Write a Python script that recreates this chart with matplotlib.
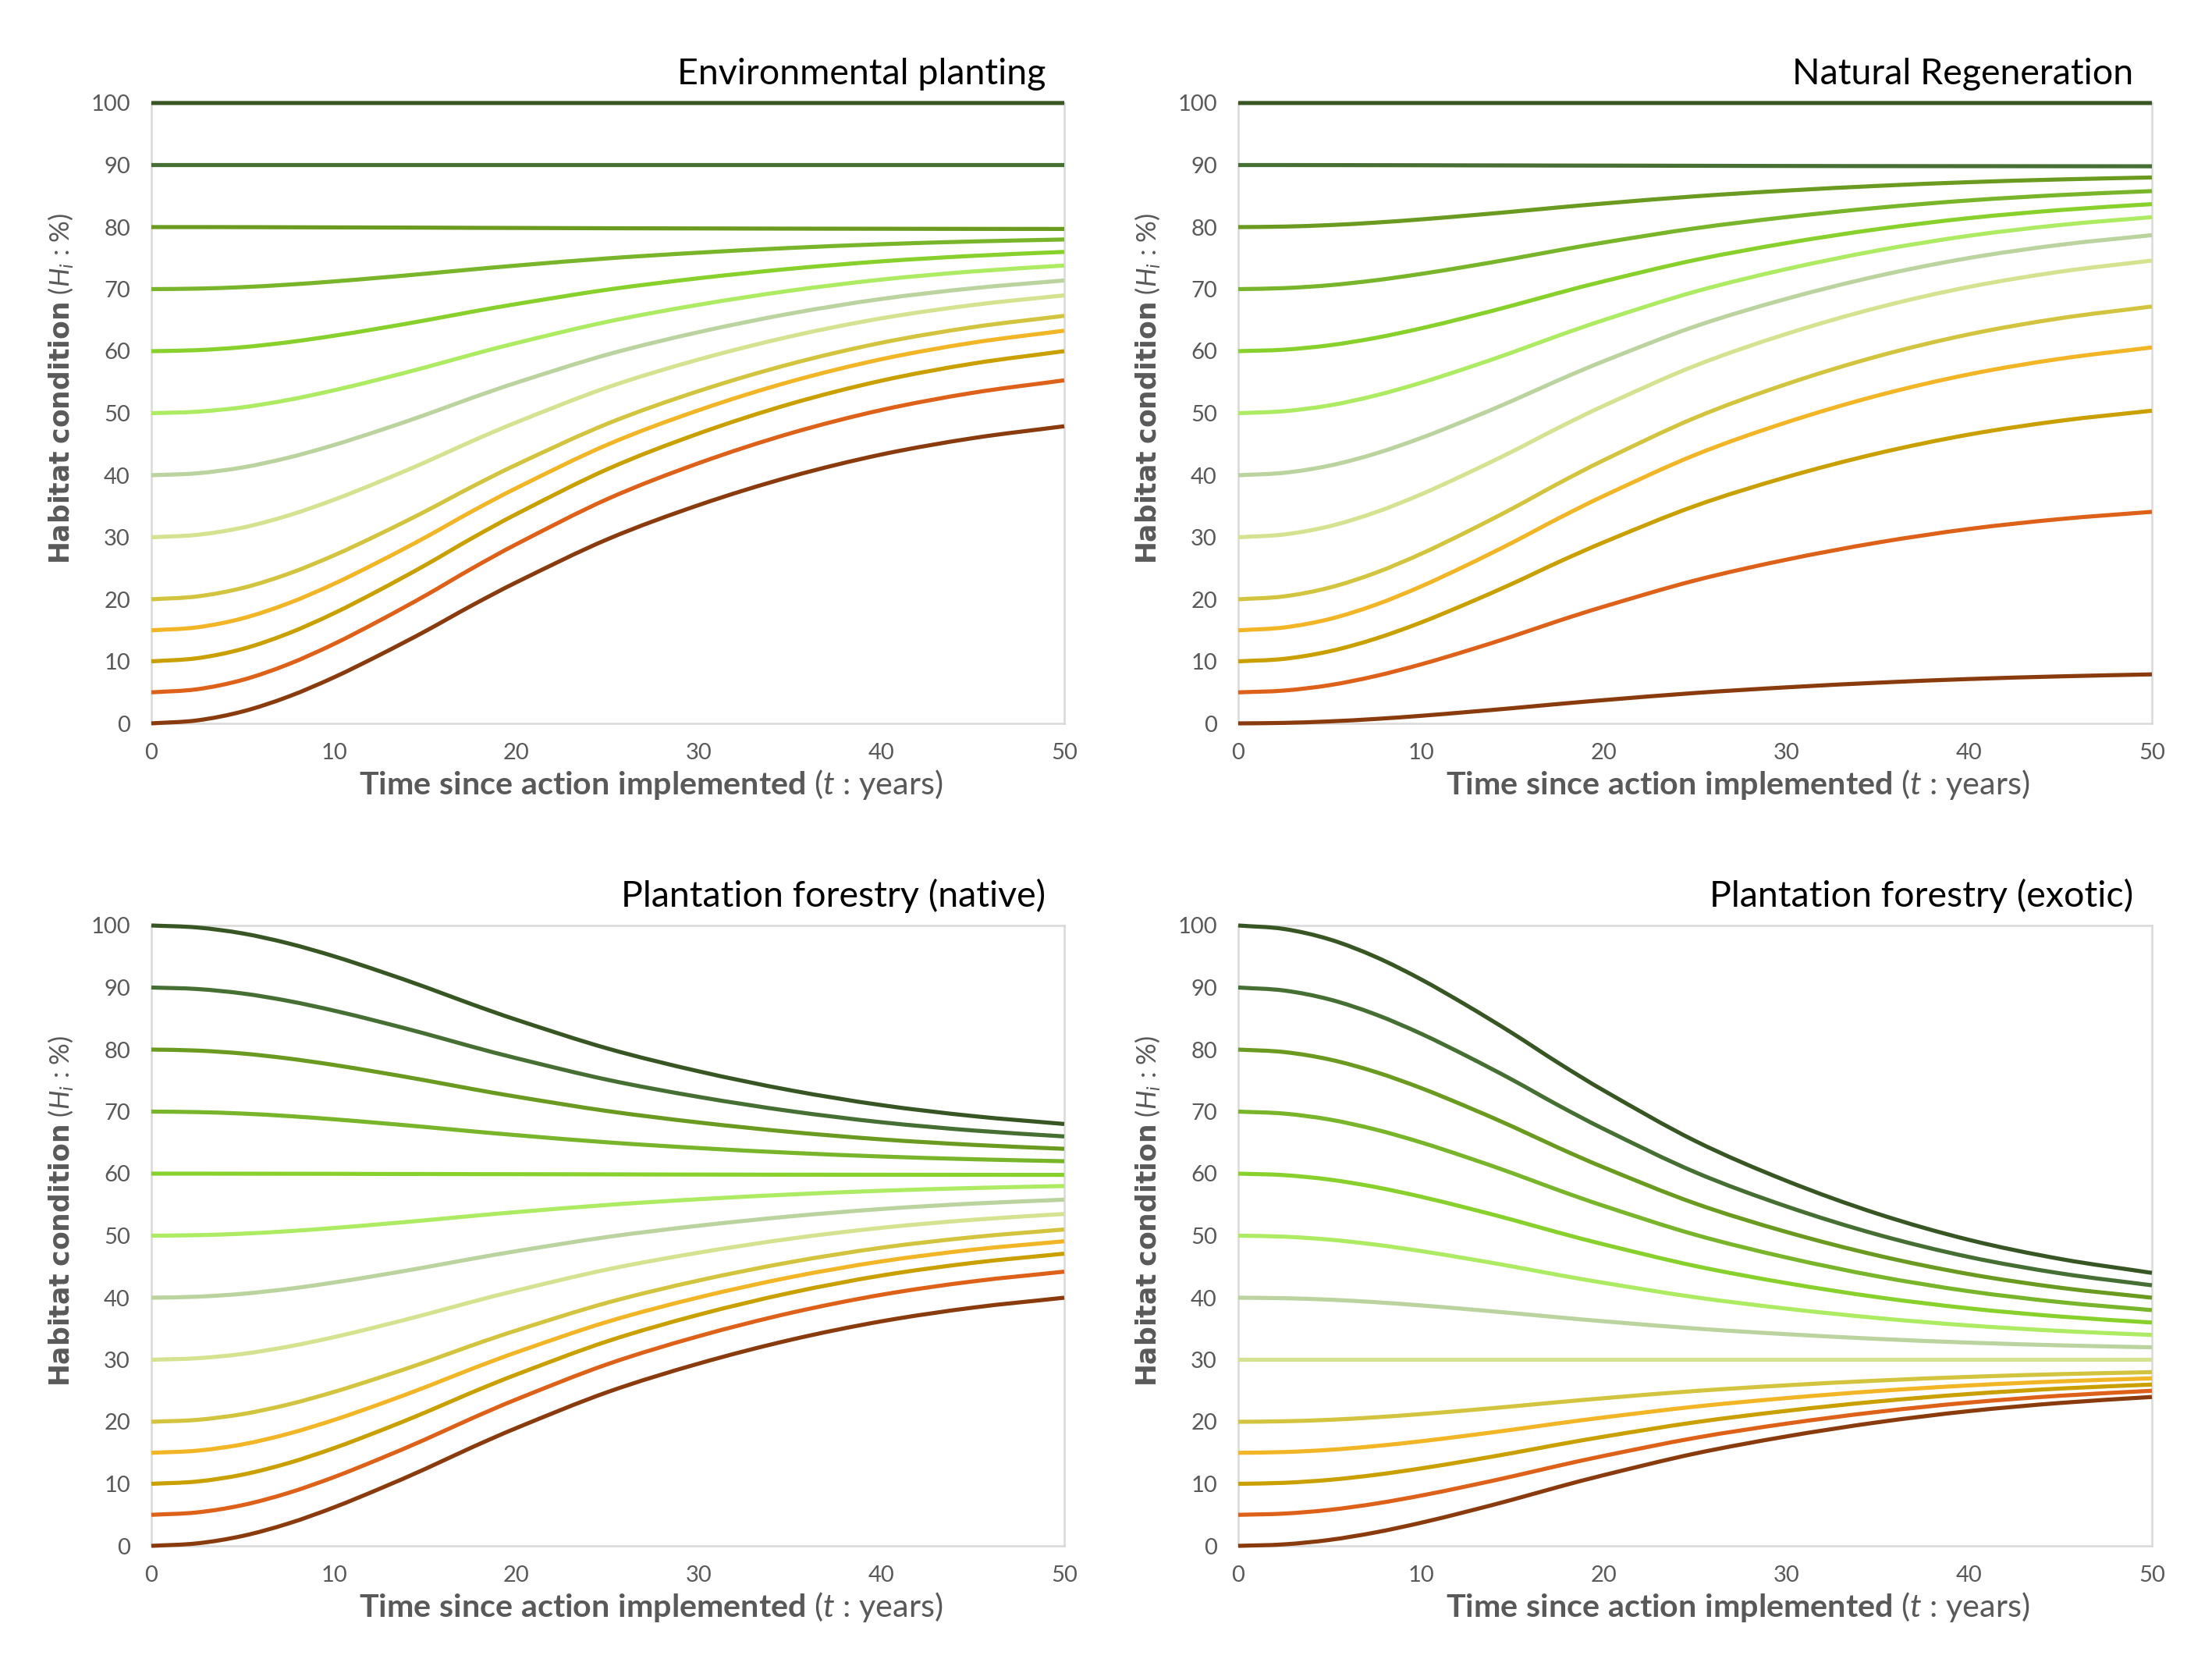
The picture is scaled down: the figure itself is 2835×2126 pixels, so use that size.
import matplotlib.pyplot as plt
from matplotlib.path import Path
from matplotlib.patches import PathPatch

# time axis shared by every curve (years since action)
years = [0, 2.5, 5, 7.5, 10, 12.5, 15, 17.5, 20, 25, 30, 35, 40, 45, 50]

# starting habitat condition of each curve, top to bottom
start_levels = [100, 90, 80, 70, 60, 50, 40, 30, 20, 15, 10, 5, 0]

line_colors = ['#375623', '#466F33', '#6A9A1F', '#78B52A', '#88D12C', '#ADEB63',
               '#BBD39F', '#D5E28F', '#D2C43F', '#F2B526', '#C9A000', '#DE6119',
               '#8A3B0E']

panel_titles = ['Environmental planting', 'Natural Regeneration',
                'Plantation forestry (native)', 'Plantation forestry (exotic)']

env_planting = [
    [100] * 15,
    [90] * 15,
    [80, 80, 79.99, 79.97, 79.95, 79.93, 79.91, 79.88, 79.86, 79.81, 79.78, 79.75, 79.73, 79.71, 79.7],
    [70, 70.08, 70.32, 70.72, 71.24, 71.84, 72.48, 73.16, 73.8, 74.96, 75.88, 76.64, 77.24, 77.68, 78.0],
    [60, 60.16, 60.64, 61.44, 62.48, 63.68, 64.96, 66.32, 67.6, 69.92, 71.76, 73.28, 74.48, 75.36, 76.0],
    [50, 50.24, 50.95, 52.14, 53.69, 55.47, 57.38, 59.40, 61.31, 64.76, 67.49, 69.75, 71.54, 72.85, 73.8],
    [40, 40.31, 41.26, 42.83, 44.87, 47.22, 49.73, 52.40, 54.92, 59.47, 63.08, 66.06, 68.42, 70.14, 71.4],
    [30, 30.39, 31.56, 33.51, 36.05, 38.97, 42.09, 45.41, 48.53, 54.18, 58.67, 62.37, 65.30, 67.44, 69.0],
    [20, 20.46, 21.83, 24.11, 27.08, 30.51, 34.17, 38.05, 41.71, 48.33, 53.59, 57.93, 61.36, 63.87, 65.7],
    [15, 15.48, 16.93, 19.35, 22.49, 26.11, 29.97, 34.08, 37.94, 44.95, 50.50, 55.09, 58.71, 61.37, 63.3],
    [10, 10.5, 12.0, 14.5, 17.75, 21.5, 25.5, 29.75, 33.75, 41.0, 46.75, 51.5, 55.25, 58.0, 60.0],
    [5, 5.50, 7.01, 9.53, 12.80, 16.57, 20.59, 24.87, 28.89, 36.19, 41.97, 46.75, 50.52, 53.29, 55.3],
    [0, 0.48, 1.92, 4.31, 7.42, 11.02, 14.85, 18.92, 22.75, 29.70, 35.21, 39.76, 43.35, 45.98, 47.9],
]

natural_regen = [
    [100] * 15,
    [90, 90, 89.99, 89.98, 89.97, 89.95, 89.94, 89.92, 89.91, 89.88, 89.85, 89.83, 89.82, 89.81, 89.8],
    [80, 80.08, 80.32, 80.72, 81.24, 81.84, 82.48, 83.16, 83.8, 84.96, 85.88, 86.64, 87.24, 87.68, 88.0],
    [70, 70.16, 70.63, 71.42, 72.45, 73.63, 74.90, 76.24, 77.51, 79.80, 81.61, 83.11, 84.30, 85.17, 85.8],
    [60, 60.24, 60.95, 62.13, 63.67, 65.45, 67.35, 69.36, 71.26, 74.69, 77.42, 79.67, 81.45, 82.75, 83.7],
    [50, 50.32, 51.26, 52.84, 54.90, 57.27, 59.80, 62.48, 65.01, 69.59, 73.23, 76.23, 78.60, 80.34, 81.6],
    [40, 40.39, 41.55, 43.48, 46.00, 48.90, 52.00, 55.29, 58.38, 63.99, 68.44, 72.12, 75.02, 77.15, 78.7],
    [30, 30.45, 31.78, 34.01, 36.91, 40.26, 43.83, 47.62, 51.19, 57.65, 62.78, 67.02, 70.36, 72.82, 74.6],
    [20, 20.47, 21.89, 24.25, 27.32, 30.86, 34.63, 38.64, 42.42, 49.26, 54.69, 59.18, 62.72, 65.31, 67.2],
    [15, 15.46, 16.82, 19.10, 22.07, 25.49, 29.14, 33.01, 36.66, 43.27, 48.52, 52.85, 56.27, 58.78, 60.6],
    [10, 10.40, 11.62, 13.64, 16.26, 19.29, 22.52, 25.96, 29.19, 35.05, 39.69, 43.53, 46.56, 48.78, 50.4],
    [5, 5.29, 6.16, 7.62, 9.51, 11.69, 14.02, 16.50, 18.82, 23.04, 26.39, 29.15, 31.34, 32.94, 34.1],
    [0, 0.08, 0.32, 0.71, 1.22, 1.82, 2.45, 3.12, 3.75, 4.90, 5.81, 6.56, 7.15, 7.58, 7.9],
]

plantation_native = [
    [100, 99.68, 98.72, 97.12, 95.04, 92.64, 90.08, 87.36, 84.8, 80.16, 76.48, 73.44, 71.04, 69.28, 68.0],
    [90, 89.76, 89.04, 87.84, 86.28, 84.48, 82.56, 80.52, 78.6, 75.12, 72.36, 70.08, 68.28, 66.96, 66.0],
    [80, 79.84, 79.36, 78.56, 77.52, 76.32, 75.04, 73.68, 72.4, 70.08, 68.24, 66.72, 65.52, 64.64, 64.0],
    [70, 69.92, 69.68, 69.28, 68.76, 68.16, 67.52, 66.84, 66.2, 65.04, 64.12, 63.36, 62.76, 62.32, 62.0],
    [60, 60, 59.99, 59.98, 59.97, 59.95, 59.94, 59.92, 59.91, 59.88, 59.85, 59.83, 59.82, 59.81, 59.8],
    [50, 50.08, 50.32, 50.72, 51.24, 51.84, 52.48, 53.16, 53.8, 54.96, 55.88, 56.64, 57.24, 57.68, 58.0],
    [40, 40.16, 40.63, 41.42, 42.45, 43.63, 44.90, 46.24, 47.51, 49.80, 51.61, 53.11, 54.30, 55.17, 55.8],
    [30, 30.24, 30.94, 32.12, 33.64, 35.41, 37.29, 39.28, 41.16, 44.57, 47.27, 49.51, 51.27, 52.56, 53.5],
    [20, 20.31, 21.24, 22.79, 24.81, 27.13, 29.61, 32.25, 34.73, 39.22, 42.79, 45.73, 48.06, 49.76, 51.0],
    [15, 15.34, 16.36, 18.07, 20.29, 22.84, 25.57, 28.47, 31.20, 36.14, 40.06, 43.30, 45.86, 47.74, 49.1],
    [10, 10.37, 11.48, 13.34, 15.75, 18.53, 21.50, 24.66, 27.62, 33.00, 37.27, 40.79, 43.58, 45.62, 47.1],
    [5, 5.39, 6.57, 8.53, 11.08, 14.02, 17.15, 20.48, 23.62, 29.30, 33.81, 37.54, 40.48, 42.63, 44.2],
    [0, 0.4, 1.6, 3.6, 6.2, 9.2, 12.4, 15.8, 19.0, 24.8, 29.4, 33.2, 36.2, 38.4, 40.0],
]

plantation_exotic = [
    [100, 99.44, 97.76, 94.96, 91.32, 87.12, 82.64, 77.88, 73.4, 65.28, 58.84, 53.52, 49.32, 46.24, 44.0],
    [90, 89.52, 88.08, 85.68, 82.56, 78.96, 75.12, 71.04, 67.2, 60.24, 54.72, 50.16, 46.56, 43.92, 42.0],
    [80, 79.6, 78.4, 76.4, 73.8, 70.8, 67.6, 64.2, 61.0, 55.2, 50.6, 46.8, 43.8, 41.6, 40.0],
    [70, 69.68, 68.72, 67.12, 65.04, 62.64, 60.08, 57.36, 54.8, 50.16, 46.48, 43.44, 41.04, 39.28, 38.0],
    [60, 59.76, 59.04, 57.84, 56.28, 54.48, 52.56, 50.52, 48.6, 45.12, 42.36, 40.08, 38.28, 36.96, 36.0],
    [50, 49.84, 49.36, 48.56, 47.52, 46.32, 45.04, 43.68, 42.4, 40.08, 38.24, 36.72, 35.52, 34.64, 34.0],
    [40, 39.92, 39.68, 39.28, 38.76, 38.16, 37.52, 36.84, 36.2, 35.04, 34.12, 33.36, 32.76, 32.32, 32.0],
    [30] * 15,
    [20, 20.08, 20.32, 20.72, 21.24, 21.84, 22.48, 23.16, 23.8, 24.96, 25.88, 26.64, 27.24, 27.68, 28.0],
    [15, 15.12, 15.48, 16.08, 16.86, 17.76, 18.72, 19.74, 20.7, 22.44, 23.82, 24.96, 25.86, 26.52, 27.0],
    [10, 10.16, 10.64, 11.44, 12.48, 13.68, 14.96, 16.32, 17.6, 19.92, 21.76, 23.28, 24.48, 25.36, 26.0],
    [5, 5.2, 5.8, 6.8, 8.1, 9.6, 11.2, 12.9, 14.5, 17.4, 19.7, 21.6, 23.1, 24.2, 25.0],
    [0, 0.24, 0.96, 2.16, 3.72, 5.52, 7.44, 9.48, 11.4, 14.88, 17.64, 19.92, 21.72, 23.04, 24.0],
]


def smooth_path(xs, ys):
    # excel-style smoothed line: cubic bezier through every point
    n = len(xs)
    slopes = []
    for i in range(n):
        a = max(i - 1, 0)
        b = min(i + 1, n - 1)
        slopes.append((ys[b] - ys[a]) / (xs[b] - xs[a]))
    verts = [(xs[0], ys[0])]
    codes = [Path.MOVETO]
    for i in range(n - 1):
        h = (xs[i + 1] - xs[i]) / 3
        verts += [(xs[i] + h, ys[i] + slopes[i] * h),
                  (xs[i + 1] - h, ys[i + 1] - slopes[i + 1] * h),
                  (xs[i + 1], ys[i + 1])]
        codes += [Path.CURVE4] * 3
    return Path(verts, codes)


plt.rcParams['font.family'] = 'Lato'
plt.rcParams['mathtext.fontset'] = 'custom'
plt.rcParams['mathtext.rm'] = 'Lato'
plt.rcParams['mathtext.it'] = 'Lato:italic'
plt.rcParams['mathtext.bf'] = 'Lato:bold'
plt.rcParams['mathtext.sf'] = 'DejaVu Sans:bold'

grey = '#595959'
W, H = 2835, 2126
fig = plt.figure(figsize=(W / 300, H / 300), dpi=300)

# axes boxes in pixels: left, top, right, bottom
boxes = [(194, 132, 1364, 927), (1587, 132, 2758, 927),
         (194, 1186, 1364, 1981), (1587, 1186, 2758, 1981)]
panels = [env_planting, natural_regen, plantation_native, plantation_exotic]

for (l, t, r, b), curves, title in zip(boxes, panels, panel_titles):
    ax = fig.add_axes([l / W, 1 - b / H, (r - l) / W, (b - t) / H])
    for vals, col in zip(reversed(curves), reversed(line_colors)):
        ax.add_patch(PathPatch(smooth_path(years, vals), fill=False, edgecolor=col,
                               lw=1.25, capstyle='butt', clip_on=False, zorder=3))

    ax.set_xlim(0, 50)
    ax.set_ylim(0, 100)
    ax.set_xticks(range(0, 51, 10))
    ax.set_yticks(range(0, 101, 10))
    ax.tick_params(length=0, labelsize=7, labelcolor=grey)
    ax.tick_params(axis='y', pad=6.5)
    ax.tick_params(axis='x', pad=6)
    for sp in ax.spines.values():
        sp.set_color('#D9D9D9')
        sp.set_linewidth(0.6)
        sp.set_zorder(1)

    ax.set_xlabel(r'$\mathbf{Time\ since\ action\ implemented}$ ($\mathit{t}$ : years)',
                  fontsize=9.9, color=grey)
    ax.xaxis.set_label_coords(0.547, -0.072)
    ax.set_ylabel(r'$\mathsf{Habitat\ condition}$ ($H_i$ : %)', fontsize=8.3, color=grey)
    ax.yaxis.set_label_coords(-0.084, 0.54)

    ax.text(0.98, 1.03, title, transform=ax.transAxes, ha='right', va='baseline',
            fontsize=11.2, color='black')

fig.savefig('out.png', dpi=300)
